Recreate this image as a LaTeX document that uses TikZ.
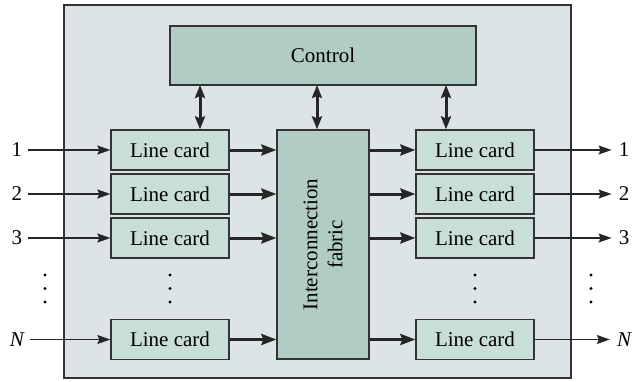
\documentclass[tikz,border=0pt]{standalone}
\usepackage{fontspec}
\setmainfont{Liberation Serif}
\usetikzlibrary{arrows.meta}
\definecolor{outerfill}{HTML}{DDE4E7}
\definecolor{darkfill}{HTML}{B1CBC5}
\definecolor{cardfill}{HTML}{C9DDD9}
\definecolor{edge}{HTML}{333333}
\begin{document}
\begin{tikzpicture}[x=1pt,y=-1pt,
  font=\fontsize{21}{25}\selectfont,
  boxline/.style={draw=edge,line width=1.3pt},
  cardbox/.style={boxline,fill=cardfill,minimum width=118pt,minimum height=40pt,inner sep=0pt},
  thin/.style={line width=1.3pt,draw=black!85,-{Stealth[length=13pt,width=9pt,inset=2pt]}},
  thick/.style={line width=3pt,draw=black!85,-{Stealth[length=15pt,width=11pt,inset=2pt]}},
  dbl/.style={line width=3pt,draw=black!85,{Stealth[length=13pt,width=10pt,inset=2pt]}-{Stealth[length=13pt,width=10pt,inset=2pt]}},
  lbl/.style={inner sep=0pt},
  dot/.style={circle,fill=black,inner sep=0pt,minimum size=3.2pt}
]
\useasboundingbox (0,0) rectangle (634,381);
\draw[boxline,fill=outerfill] (64,5) rectangle (571,378);
\node[boxline,fill=darkfill,minimum width=306pt,minimum height=59pt,inner sep=0pt] (ctrl) at (323,55.5) {Control};
\node[boxline,fill=darkfill,minimum width=92pt,minimum height=229pt,inner sep=0pt] (fab) at (323,244.5) {};
\node[rotate=90,align=center,font=\fontsize{21}{25}\selectfont] (fabtxt) at (323,244.5) {Interconnection\\fabric};
% left cards
\node[cardbox] (L1) at (170,150) {Line card};
\node[cardbox] (L2) at (170,194) {Line card};
\node[cardbox] (L3) at (170,238) {Line card};
\node[cardbox] (LN) at (170,339.5) {Line card};
% right cards
\node[cardbox] (R1) at (475,150) {Line card};
\node[cardbox] (R2) at (475,194) {Line card};
\node[cardbox] (R3) at (475,238) {Line card};
\node[cardbox] (RN) at (475,339.5) {Line card};
% input labels
\node[lbl] (i1) at (17,150) {1};
\node[lbl] (i2) at (17,194) {2};
\node[lbl] (i3) at (17,238) {3};
\node[lbl] (iN) at (17,339.5) {\itshape N};
\node[lbl] (o1) at (624,150) {1};
\node[lbl] (o2) at (624,194) {2};
\node[lbl] (o3) at (624,238) {3};
\node[lbl] (oN) at (624,339.5) {\itshape N};
% input arrows
\foreach \a/\b in {i1/L1,i2/L2,i3/L3,iN/LN}{
  \draw[thin] ([xshift=6pt]\a.east) -- (\b.west);
}
\foreach \a/\b in {R1/o1,R2/o2,R3/o3,RN/oN}{
  \draw[thin] (\a.east) -- ([xshift=-7pt]\b.west);
}
% thick arrows to/from fabric
\foreach \a in {L1,L2,L3,LN}{
  \draw[thick] (\a.east) -- (\a.east -| fab.west);
}
\foreach \a in {R1,R2,R3,RN}{
  \draw[thick] (\a.west -| fab.east) -- (\a.west);
}
% control double arrows
\coordinate (cl) at (200,85);
\coordinate (cm) at (317,85);
\coordinate (cr) at (446,85);
\draw[dbl] (cl) -- (cl |- L1.north);
\draw[dbl] (cm) -- (cm |- fab.north);
\draw[dbl] (cr) -- (cr |- R1.north);
% dots
\foreach \x/\n in {45/a,170/b,475/c,591/d}{
  \node[dot] (d1\n) at (\x,275) {};
  \node[dot] (d2\n) at (\x,288.5) {};
  \node[dot] (d3\n) at (\x,302) {};
}
\end{tikzpicture}
\end{document}
